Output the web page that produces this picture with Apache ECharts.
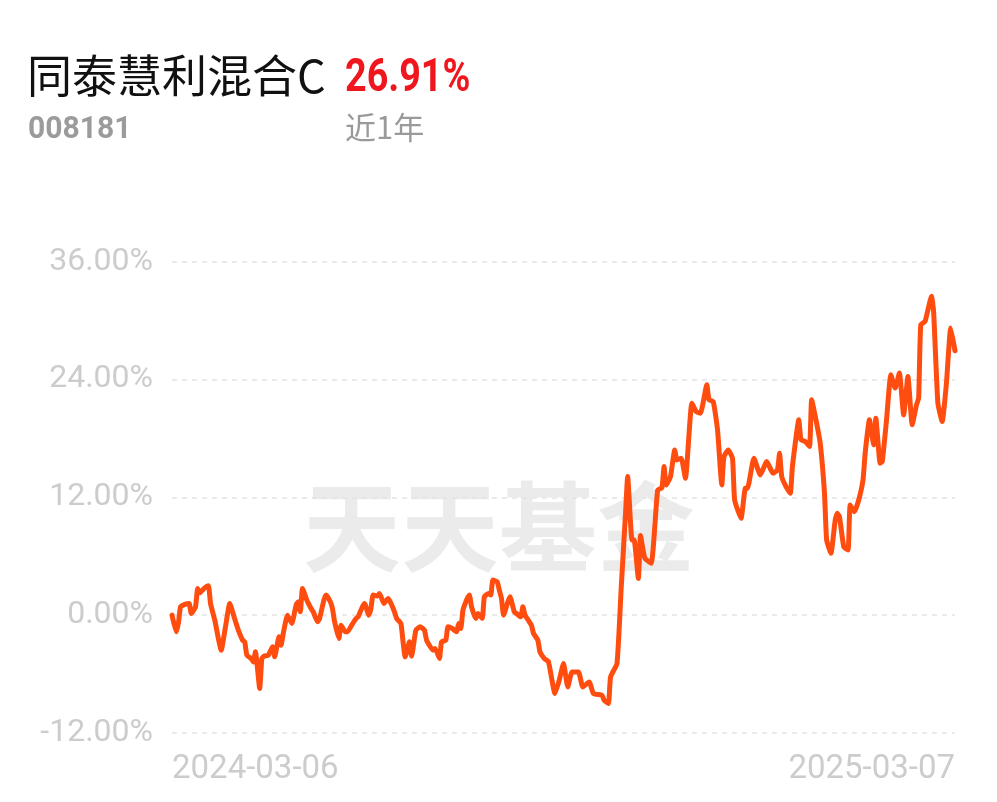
<!DOCTYPE html>
<html>
<head>
<meta charset="utf-8">
<script src="https://cdn.jsdelivr.net/npm/echarts@6/dist/echarts.min.js"></script>
<style>
html,body{margin:0;padding:0;background:#fff;}
#chart{width:997px;height:802px;}
</style>
</head>
<body>
<div id="chart"></div>
<script>
// Fund info
const fundName = '同泰慧利混合C';
const fundCode = '008181';
const periodReturn = '26.91%';
const periodLabel = '近1年';
const watermark = '天天基金';

// X tick labels (first and last date of the period)
const xTickLabels = ['2024-03-06', '2025-03-07'];

// Days since 2024-03-06 for each sampled point
const dayOffsets = [
  0, 2, 3, 4, 6, 8, 9, 11, 12, 13, 15, 17, 18, 20, 23, 25, 27, 29, 31, 33,
  34, 35, 37, 38, 39, 41, 42, 43, 45, 47, 48, 50, 51, 52, 54, 56, 58, 59, 60, 61,
  63, 65, 66, 68, 69, 71, 72, 74, 75, 76, 78, 79, 81, 82, 84, 86, 87, 89, 90, 92,
  93, 94, 96, 97, 99, 101, 102, 104, 105, 107, 108, 109, 111, 112, 114, 116, 118, 119, 122, 123,
  125, 126, 128, 129, 131, 133, 134, 135, 136, 138, 139, 140, 142, 143, 145, 146, 148, 149, 150, 152,
  153, 154, 155, 157, 158, 160, 161, 163, 164, 165, 166, 168, 169, 171, 172, 174, 176, 179, 181, 183,
  185, 187, 190, 192, 195, 197, 201, 202, 204, 205, 208, 210, 212, 213, 215, 216, 218, 219, 221, 224,
  227, 229, 230, 231, 233, 235, 236, 238, 240, 243, 245, 247, 250, 251, 253, 255, 257, 258, 260, 262,
  263, 266, 268, 269, 272, 275, 278, 280, 281, 283, 284, 285, 287, 289, 290, 293, 294, 296, 298, 299,
  301, 303, 305, 306, 308, 310, 311, 312, 314, 316, 317, 319, 321, 323, 324, 326, 328, 329, 331, 332,
  334, 336, 338, 340, 342, 344, 346, 348, 349, 350, 352, 353, 355, 356, 358, 360, 362, 364, 366
];

// Cumulative return (%) at each point
const returns = [
  0.00, -1.70, -0.82, 0.85, 1.09, 1.19, 0.17, 0.85, 2.72, 2.27, 2.72, 2.99, 1.19, -0.51, -3.57, -1.19, 1.19, -0.17, -1.53, -2.55,
  -2.72, -4.08, -4.41, -4.76, -3.74, -7.47, -4.41, -4.18, -4.08, -3.23, -4.25, -2.21, -3.06, -1.87, 0.00, -0.85, 1.02, 1.36, 0.34, 2.72,
  1.53, 0.68, 0.34, -0.68, -0.34, 1.53, 2.04, 1.36, 0.68, -0.68, -2.38, -1.02, -1.70, -1.70, -1.02, -0.34, -0.17, 0.85, 1.19, 0.00,
  0.68, 2.04, 1.94, 2.21, 1.19, 1.70, 1.36, 0.34, -0.34, -0.85, -2.72, -4.25, -2.72, -4.18, -1.53, -1.19, -1.53, -2.55, -3.57, -3.39,
  -4.41, -2.72, -2.55, -1.19, -1.36, -1.70, -0.85, -1.36, 0.51, 1.70, 2.04, 0.85, -0.34, 0.17, -0.34, 1.87, 2.21, 2.04, 3.57, 3.39,
  2.55, 1.70, 0.00, 1.36, 1.87, 0.34, 0.17, -0.17, 0.85, 0.00, -0.34, -1.02, -1.87, -2.55, -3.74, -4.41, -4.76, -7.98, -6.63, -4.92,
  -7.31, -5.78, -5.78, -7.31, -6.80, -7.98, -8.16, -8.66, -9.00, -6.29, -4.92, 2.88, 10.37, 14.10, 7.65, 7.65, 3.74, 8.10, 5.81, 5.27,
  12.74, 12.95, 15.12, 13.25, 14.10, 16.82, 15.80, 15.97, 13.93, 21.58, 20.72, 20.56, 23.45, 21.92, 21.74, 18.86, 13.25, 16.14, 16.82, 15.97,
  11.72, 9.86, 12.92, 12.92, 15.97, 14.27, 15.63, 14.78, 14.44, 14.78, 16.48, 14.10, 13.08, 12.41, 15.12, 19.88, 17.84, 17.67, 17.16, 21.92,
  19.88, 17.50, 12.41, 7.65, 6.29, 9.68, 10.37, 10.02, 6.96, 6.63, 11.21, 10.53, 11.72, 13.76, 16.48, 19.88, 17.33, 20.05, 15.46, 15.63,
  19.88, 24.46, 23.11, 24.64, 20.39, 24.29, 19.37, 21.41, 22.09, 29.56, 29.90, 30.75, 32.45, 30.92, 21.58, 19.70, 23.62, 29.23, 26.91
];

const seriesData = dayOffsets.map((d, i) => [d, returns[i]]);
const lastDay = dayOffsets[dayOffsets.length - 1];

const chart = echarts.init(document.getElementById('chart'), null, {renderer: 'canvas'});
const cjk = '"Noto Sans CJK SC", "Noto Sans", sans-serif';

chart.setOption({
  backgroundColor: '#ffffff',
  animation: false,
  grid: {left: 172, right: 42, top: 261.5, bottom: 69, containLabel: false},
  graphic: [
    {type: 'text', left: 27, top: 53, z: 10,
     style: {text: fundName, font: '400 45px ' + cjk, fill: '#111111'}},
    {type: 'text', x: 345, y: 56, scaleX: 0.82, z: 10,
     style: {text: periodReturn, font: 'bold 46px Roboto, "Noto Sans", sans-serif', fill: '#f0161e'}},
    {type: 'text', x: 28, y: 114, scaleX: 0.94, z: 10,
     style: {text: fundCode, font: 'bold 32px Roboto, "Noto Sans", sans-serif', fill: '#9b9b9b'}},
    {type: 'text', left: 345, top: 112, z: 10,
     style: {text: periodLabel, font: '400 31px ' + cjk, fill: '#9a9a9a'}},
    {type: 'text', z: -10, left: 303, top: 478,
     style: {text: watermark, font: 'bold 98px ' + cjk, fill: 'rgba(0,0,0,0.08)'}}
  ],
  xAxis: {
    type: 'value',
    min: 0,
    max: lastDay,
    interval: lastDay,
    axisLine: {show: false},
    axisTick: {show: false},
    splitLine: {show: false},
    axisLabel: {
      margin: 20,
      color: '#cccccc',
      fontSize: 33,
      fontFamily: 'Roboto, sans-serif',
      alignMinLabel: 'left',
      alignMaxLabel: 'right',
      formatter: function (v) { return v === 0 ? xTickLabels[0] : xTickLabels[1]; }
    }
  },
  yAxis: {
    type: 'value',
    min: -12,
    max: 36,
    interval: 12,
    axisLine: {show: false},
    axisTick: {show: false},
    axisLabel: {
      margin: 19,
      color: '#cccccc',
      fontSize: 32,
      fontFamily: 'Roboto, sans-serif',
      formatter: function (v) { return v.toFixed(2) + '%'; }
    },
    splitLine: {show: true, lineStyle: {color: '#e3e3e3', width: 1.5, type: [5, 5]}}
  },
  series: [{
    type: 'line',
    data: seriesData,
    showSymbol: false,
    symbol: 'none',
    smooth: 0.15,
    z: 5,
    lineStyle: {color: '#ff4d10', width: 5, join: 'round', cap: 'round'}
  }]
});
</script>
</body>
</html>
